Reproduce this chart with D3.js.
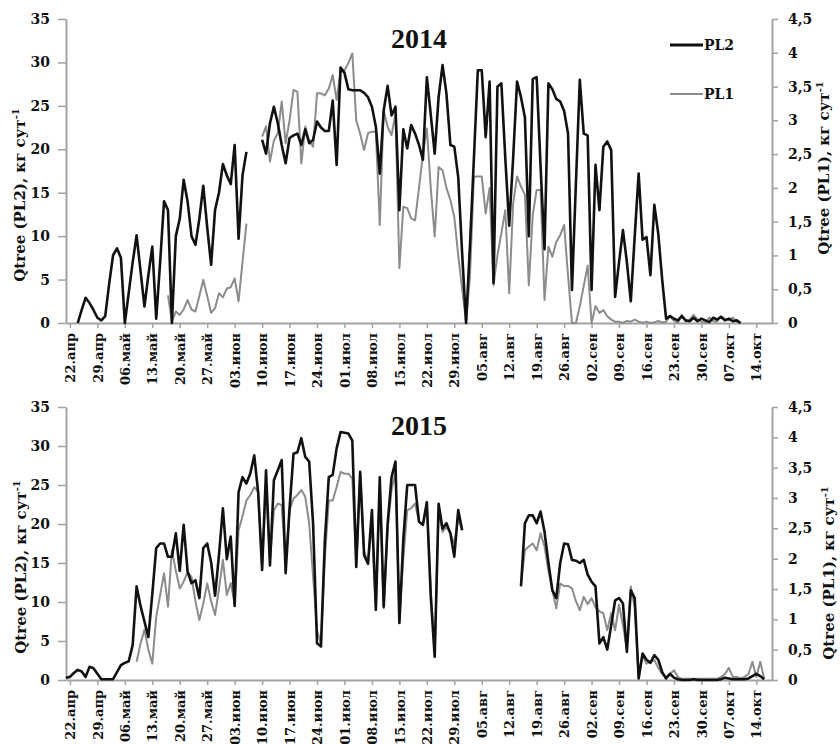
<!DOCTYPE html>
<html>
<head>
<meta charset="utf-8">
<script src="https://cdn.jsdelivr.net/npm/d3@7"></script>
<style>
  body { margin: 0; background: #fff; }
  .tick text, .lbl { font-family: "DejaVu Serif", serif; font-weight: bold; fill: #111; }
  .title { font-family: "Liberation Serif", "Times New Roman", serif; font-weight: bold; fill: #111; }
</style>
</head>
<body>
<div class="container"></div>
<script>
// day 0 = 21 April, one value per day, null = no data
var tickLabels = ["22.апр", "29.апр", "06.май", "13.май", "20.май", "27.май", "03.июн", "10.июн", "17.июн",
  "24.июн", "01.июл", "08.июл", "15.июл", "22.июл", "29.июл", "05.авг", "12.авг", "19.авг", "26.авг",
  "02.сен", "09.сен", "16.сен", "23.сен", "30.сен", "07.окт", "14.окт"];
var tickDays = tickLabels.map(function(d, i) { return 1 + 7 * i; });

var pl2Ticks = [0, 5, 10, 15, 20, 25, 30, 35];
var pl1Ticks = [0, 0.5, 1, 1.5, 2, 2.5, 3, 3.5, 4, 4.5];

// 2014, PL2 (left axis) starts on day 3
var pl2_2014_start = 3;
var pl2_2014 = [
  0, 1.5, 2.9, 2.3, 1.5, 0.6, 0.3, 0.8, 4.5, 7.8,
  8.6, 7.5, 0, 3.5, 7, 10.1, 6, 1.9, 5.5, 8.8,
  0.5, 7, 14, 13, 0, 10, 12, 16.5, 14, 10,
  9, 12, 15.8, 11, 6.7, 13, 15, 18.3, 17, 16,
  20.5, 9.7, 17, 19.7, null, null, null, 21.1, 19.5, 23,
  24.9, 23, 20.5, 18.4, 21.3, 21.6, 21.8, 20.5, 22.3, 20.7,
  21.1, 23.2, 22.5, 22.1, 22.1, 25.6, 18.2, 29.4, 28.8, 26.9,
  26.8, 26.8, 26.8, 26.5, 26, 24.9, 22.6, 17.2, 24.5, 27.3,
  23.9, 24.9, 13, 22.3, 20.1, 22.8, 21.8, 20.5, 18.8, 28.3,
  24, 19.5, 26, 29.7, 26.4, 20.5, 20.3, 16.8, 8, 0,
  9, 19, 29.1, 29.1, 21.4, 27.8, 4.6, 27.2, 27.6, 19,
  11.2, 19, 27.8, 26, 23.7, 10, 28.1, 28.3, 18, 8.5,
  27.6, 26.9, 25.8, 25.5, 24.4, 21.8, 3.8, 16, 28, 21.8,
  21.6, 3.8, 18.2, 13, 20.3, 20.9, 19.9, 3, 7, 10.7,
  7, 2.5, 10, 17.2, 9.6, 9.9, 5.5, 13.6, 10.3, 5,
  0.5, 0.8, 0.5, 0.3, 0.8, 0.3, 0.2, 0.6, 0.2, 0.5,
  0.3, 0.1, 0.6, 0.4, 0.7, 0.3, 0.5, 0.2, 0.3, 0
];

// 2014, PL1 (right axis) starts on day 26
var pl1_2014_start = 26;
var pl1_2014 = [
  0.41, 0.02, 0.17, 0.12, 0.2, 0.34, 0.2, 0.17, 0.4, 0.64,
  0.4, 0.15, 0.22, 0.44, 0.38, 0.51, 0.53, 0.66, 0.32, 0.9,
  1.47, null, null, null, 2.76, 2.91, 2.39, 2.7, 2.81, 3.28,
  2.66, 3, 3.45, 3.42, 2.36, 2.91, 2.7, 2.61, 3.4, 3.4,
  3.37, 3.47, 3.67, 3.3, 3.72, 3.74, 3.85, 3.99, 3, 2.8,
  2.56, 2.81, 2.83, 2.83, 1.45, 3.15, 2.9, 2.78, 3.1, 0.81,
  1.72, 1.7, 1.55, 1.52, 2, 2.5, 2.88, 2, 1.28, 2.31,
  2.26, 2, 1.82, 1.57, 1, 0.5, 0.02, 0.7, 2.17, 2.17,
  2.17, 1.62, 2, 0.56, 1, 1.33, 1.67, 0.44, 1.77, 2.17,
  2.02, 1.9, 0.56, 1.6, 1.97, 1.97, 0.34, 1.13, 0.98, 1.2,
  1.3, 1.45, 0.7, 0, 0, 0.25, 0.55, 0.85, 0, 0.25,
  0.15, 0.19, 0.1, 0.05, 0.02,
  0.02, 0, 0.03, 0.02, 0.05, 0.02, 0, 0.02, 0, 0.01,
  0.03, 0.01, 0.02, 0.1, 0.03, 0, 0.12, 0.02, 0.05, 0.12,
  0.05, 0.02, 0, 0.08, 0.03, 0.02, 0.1, 0.06, 0.04, 0.08,
  0.02, 0
];

// 2015, PL2 starts on day 0
var pl2_2015_start = 0;
var pl2_2015 = [
  0.3, 0.4, 0.9, 1.3, 1.1, 0.4, 1.7, 1.5, 0.8, 0.1,
  0.1, 0.1, 0.1, 1, 1.9, 2.2, 2.4, 4.5, 12, 9.5,
  7.5, 5.5, 11, 16.9, 17.5, 17.5, 15.8, 15.8, 18.8, 14,
  19.9, 13.9, 12.4, 12.8, 10.5, 16.9, 17.5, 15.1, 10.8, 16,
  22, 15.5, 18.4, 9.5, 24.1, 26, 25.2, 26.5, 28.8, 24,
  14.1, 26.9, 14.7, 25.6, 26.9, 28.2, 13.7, 22, 29, 29.2,
  31, 28.6, 28, 20, 4.7, 4.3, 17.9, 26, 26.3, 29.7,
  31.8, 31.7, 31.6, 30.7, 14.5, 26.7, 16, 14.9, 21.8, 9,
  26, 9.4, 20, 26, 28, 7.3, 18, 25, 25, 25,
  20.3, 19.9, 22.8, 10.7, 3, 22.6, 19.4, 20.1, 18.8, 15.8,
  21.8, 19.2, null, null, null, null, null, null, null, null,
  null, null, null, null, null, null, 12, 20.1, 21.1, 21.1,
  20.1, 21.6, 19, 15, 11.5, 10.5, 15, 17.5, 17.4, 15.4,
  15.3, 15, 15.4, 13.5, 12.6, 12, 4.7, 5.5, 3.9, 7,
  10.2, 10.5, 9.8, 3.6, 11.5, 10.5, 0.2, 3.4, 2.6, 2.2,
  3.2, 2.6, 1, 0.2, 0.8, 0.3, 0.1, 0, 0, 0,
  0.1, 0, 0, 0, 0, 0, 0, 0.1, 0.3, 0.2,
  0.1, 0.1, 0.1, 0.1, 0.2, 0.5, 0.8, 0.5, 0.1
];

// 2015, PL1 starts on day 18
var pl1_2015_start = 18;
var pl1_2015 = [
  0.3, 0.6, 0.83, 0.5, 0.27, 1.04, 1.4, 1.76, 1.21, 2.14,
  1.8, 1.51, 1.62, 1.78, 1.7, 1.3, 0.99, 1.26, 1.59, 1.3,
  1.07, 1.5, 1.98, 1.4, 1.6, 1.26, 2.47, 2.7, 2.96, 3.05,
  3.18, 3.1, 1.87, 3.24, 1.98, 2.8, 2.91, 2.88, 1.92, 2.8,
  2.99, 3.05, 3.13, 3.02, 2.58, 1.7, 0.82, 0.6, 2, 2.96,
  2.96, 3.18, 3.43, 3.4, 3.4, 3.32, 1.87, 3.38, 2.14, 1.92,
  2.58, 1.15, 3.24, 1.18, 2.5, 3.13, 3.43, 0.99, 2, 2.8,
  2.83, 2.91, 2.61, 2.55, 2.91, 1.48, 0.44, 2.8, 2.44, 2.52,
  2.42, 2.25, 2.66, 2.47, null, null, null, null, null, null,
  null, null, null, null, null, null, null, null, 1.56, 2.14,
  2.2, 2.25, 2.14, 2.42, 2.2, 1.8, 1.48, 1.18, 1.59, 1.55,
  1.55, 1.51, 1.3, 1.15, 1.37, 1.25, 1.35, 1.2, 1.13, 1.1,
  0.82, 1.1, 0.82, 1.24, 0.9, 0.5, 1.54, 1.2, 0.05, 0.4,
  0.27, 0.3, 0.33, 0.2, 0.1, 0.05, 0.1, 0.16, 0.05, 0.02,
  0.02, 0.02, 0.02, 0.02, 0.02, 0.02, 0.02, 0.02, 0.02, 0.05,
  0.1, 0.2, 0.05, 0.05, 0.03, 0.05, 0.1, 0.3, 0.05, 0.3,
  0.03
];

var colorPL2 = "#111111";
var colorPL1 = "#8c8c8c";
var axisColor = "#a3a3a3";

var width = 840, height = 744;
var svg = d3.select(".container").append("svg")
  .attr("width", width).attr("height", height)
  .style("background", "#fff");

// shared x scale (days since 21 April)
var x = d3.scaleLinear().domain([0, 180]).range([66, 772]);

// turn start day + daily list into points
function toPoints(start, values) {
  return values.map(function(v, i) { return { day: start + i, v: v }; });
}

var panels = [
  { year: "2014", top: 19, bottom: 323, titleY: 48, legend: true,
    pl2: toPoints(pl2_2014_start, pl2_2014), pl1: toPoints(pl1_2014_start, pl1_2014),
    leftTitle: [25, 195], rightTitle: [829, 168] },
  { year: "2015", top: 407, bottom: 680, titleY: 435, legend: false,
    pl2: toPoints(pl2_2015_start, pl2_2015), pl1: toPoints(pl1_2015_start, pl1_2015),
    leftTitle: [26, 567], rightTitle: [834, 573] }
];

panels.forEach(drawPanel);

function styleAxis(g) {
  g.select(".domain").attr("stroke", axisColor).attr("stroke-width", 2);
  g.selectAll(".tick line").attr("stroke", axisColor).attr("stroke-width", 1.5);
}

function axisTitle(pos, label) {
  var t = svg.append("text").attr("class", "lbl")
    .attr("transform", "translate(" + pos[0] + "," + pos[1] + ") rotate(-90)")
    .attr("text-anchor", "middle")
    .style("font-size", "15px");
  t.append("tspan").text("Qtree (" + label + "), кг сут");
  t.append("tspan").attr("dy", "-6").style("font-size", "10px").text("-1");
}

function drawPanel(p) {
  var yL = d3.scaleLinear().domain([0, 35]).range([p.bottom, p.top]);
  var yR = d3.scaleLinear().domain([0, 4.5]).range([p.bottom, p.top]);

  // x axis with rotated date labels
  var gx = svg.append("g")
    .attr("transform", "translate(0," + p.bottom + ")")
    .call(d3.axisBottom(x).tickValues(tickDays)
      .tickFormat(function(d, i) { return tickLabels[i]; })
      .tickSize(5).tickSizeOuter(0));
  gx.selectAll(".tick text")
    .attr("transform", "rotate(-90)")
    .attr("text-anchor", "end")
    .attr("x", -10).attr("y", 0).attr("dy", "0.36em")
    .style("font-size", "13px");
  styleAxis(gx);

  // left axis (PL2)
  var gl = svg.append("g")
    .attr("transform", "translate(" + x.range()[0] + ",0)")
    .call(d3.axisLeft(yL).tickValues(pl2Ticks).tickSize(8).tickPadding(8).tickSizeOuter(0));
  gl.selectAll(".tick text").style("font-size", "14px");
  styleAxis(gl);

  // right axis (PL1)
  var gr = svg.append("g")
    .attr("transform", "translate(" + x.range()[1] + ",0)")
    .call(d3.axisRight(yR).tickValues(pl1Ticks).tickSize(6).tickPadding(10).tickSizeOuter(0)
      .tickFormat(function(d) { return String(d).replace(".", ","); }));
  gr.selectAll(".tick text").style("font-size", "14px");
  styleAxis(gr);

  // lines: PL1 underneath, PL2 on top
  var line1 = d3.line()
    .defined(function(d) { return d.v != null; })
    .x(function(d) { return x(d.day); })
    .y(function(d) { return yR(d.v); });
  var line2 = d3.line()
    .defined(function(d) { return d.v != null; })
    .x(function(d) { return x(d.day); })
    .y(function(d) { return yL(d.v); });

  svg.append("path").datum(p.pl1)
    .attr("d", line1).attr("fill", "none")
    .attr("stroke", colorPL1).attr("stroke-width", 2).attr("stroke-linejoin", "round");
  svg.append("path").datum(p.pl2)
    .attr("d", line2).attr("fill", "none")
    .attr("stroke", colorPL2).attr("stroke-width", 2.6).attr("stroke-linejoin", "round");

  // year title
  svg.append("text").attr("class", "title")
    .attr("x", 419).attr("y", p.titleY)
    .attr("text-anchor", "middle")
    .style("font-size", "28px")
    .text(p.year);

  axisTitle(p.leftTitle, "PL2");
  axisTitle(p.rightTitle, "PL1");

  // legend only on the first panel
  if (p.legend) {
    var items = [{ name: "PL2", color: colorPL2, w: 3, y: 45 }, { name: "PL1", color: colorPL1, w: 2, y: 94 }];
    items.forEach(function(it) {
      svg.append("line")
        .attr("x1", 670).attr("x2", 703).attr("y1", it.y).attr("y2", it.y)
        .attr("stroke", it.color).attr("stroke-width", it.w);
      svg.append("text").attr("class", "lbl")
        .attr("x", 704).attr("y", it.y + 5)
        .style("font-size", "14px")
        .text(it.name);
    });
  }
}
</script>
</body>
</html>
